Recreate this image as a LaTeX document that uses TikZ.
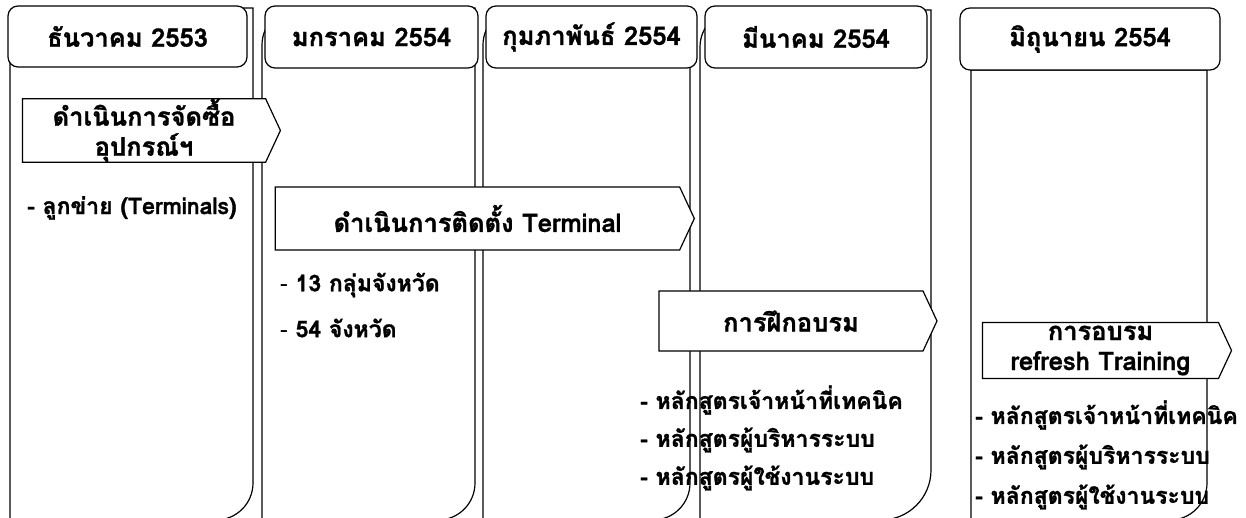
\documentclass[tikz,border=0pt]{standalone}
\usepackage{fontspec}
\setmainfont{Loma}[Script=Thai, BoldFeatures={FakeBold=1.2}]
\usetikzlibrary{shapes.symbols}

\begin{document}
\begin{tikzpicture}[x=1pt,y=-1pt,
    colline/.style = {line width=1.2pt},
    head/.style = {draw, line width=1.2pt, fill=white,
                rounded corners=10pt,
                font=\bfseries\fontsize{25.5}{28}\selectfont},
    stage/.style = {signal, signal from=nowhere, signal to=east,
                signal pointer angle=130, draw, line width=1.2pt,
                fill=white, inner sep=0pt, align=center,
                font=\bfseries\fontsize{25.5}{30}\selectfont},
    item/.style = {anchor=west, inner sep=0pt,
                font=\bfseries\fontsize{23}{26}\selectfont}]
    \useasboundingbox (0,0) rectangle (1246,518);
    \clip (0,0) rectangle (1246,518);

    % December
    \draw[colline] (10,530) -- (10,45) arc(180:270:37) -- (253,8)
        -- (253,483) arc(0:90:37) -- (150,520);
    \node[head, minimum width=239, minimum height=61] (dec) at (127.5,36.5) {ธันวาคม 2553};
    % January
    \draw[colline] (262,530) -- (262,45) arc(180:270:37) -- (475,8)
        -- (475,483) arc(0:90:37) -- (400,520);
    \node[head, minimum width=213, minimum height=62] (jan) at (371.5,37) {มกราคม 2554};
    % February
    \draw[colline] (483,530) -- (483,45) arc(180:270:37) -- (690,8)
        -- (690,483) arc(0:90:37) -- (600,520);
    \node[head, minimum width=211, minimum height=62] (feb) at (591.5,37) {กุมภาพันธ์ 2554};
    % March
    \draw[colline] (700,530) -- (700,47) arc(180:270:37) -- (931,10)
        -- (931,470) arc(0:90:50) -- (850,520);
    \node[head, minimum width=222, minimum height=62] (mar) at (816,37) {มีนาคม 2554};
    % June
    \draw[colline] (971,530) -- (971,70) -- (1207,70)
        -- (1207,483) arc(0:90:37) -- (1100,520);
    \node[head, minimum width=260, minimum height=62] (jun) at (1090,39) {มิถุนายน 2554};

    % Stages
    \node[stage, minimum width=258, minimum height=63] (buy) at (144,130.5)
        {ดำเนินการจัดซื้อ\\อุปกรณ์ฯ};
    \node[stage, minimum width=419, minimum height=63] (install) at (477.5,218.5)
        {ดำเนินการติดตั้ง Terminal};
    \node[stage, minimum width=278, minimum height=60] (train) at (791,321)
        {การฝึกอบรม};
    \node[stage, minimum width=249, minimum height=56] (refresh) at (1100.5,350.5)
        {การอบรม\\refresh Training};

    % Items
    \node[item] (term) at (27,208) {- ลูกข่าย (Terminals)};
    \node[item] (prov13) at (280,285) {{\mdseries -} 13 กลุ่มจังหวัด};
    \node[item] (prov54) at (280,328) {{\mdseries -} 54 จังหวัด};
    \node[item] (tech) at (640,400) {- หลักสูตรเจ้าหน้าที่เทคนิค};
    \node[item] (admin) at (640,440) {- หลักสูตรผู้บริหารระบบ};
    \node[item] (user) at (640,478) {- หลักสูตรผู้ใช้งานระบบ};
    \node[item] (tech2) at (975,415) {- หลักสูตรเจ้าหน้าที่เทคนิค};
    \node[item] (admin2) at (975,457) {- หลักสูตรผู้บริหารระบบ};
    \node[item] (user2) at (975,497) {- หลักสูตรผู้ใช้งานระบบ};
\end{tikzpicture}
\end{document}
